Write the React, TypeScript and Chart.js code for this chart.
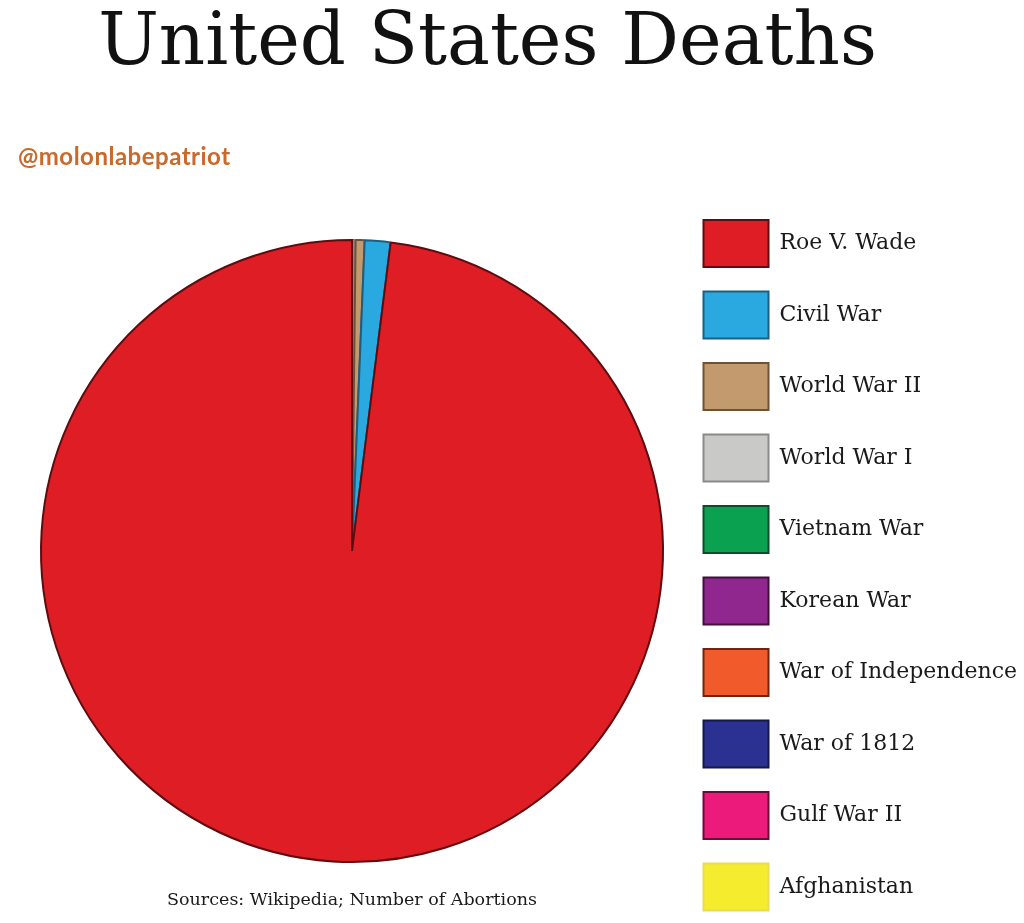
import React, { useEffect, useRef } from "react";
import { Chart, registerables } from "chart.js";

Chart.register(...registerables);

// Legend order (top to bottom); the pie is drawn in reverse order clockwise from 12 o'clock
const categories: string[] = [
  "Roe V. Wade",
  "Civil War",
  "World War II",
  "World War I",
  "Vietnam War",
  "Korean War",
  "War of Independence",
  "War of 1812",
  "Gulf War II",
  "Afghanistan",
];

// Estimated deaths
const deaths: number[] = [
  61000000, 830000, 290000, 55000, 25000, 15000, 10000, 6000, 2500, 1500,
];

const fillColors: string[] = [
  "#de1e24",
  "#29a9e0",
  "#c39a6e",
  "#c9c9c7",
  "#0aa150",
  "#90278e",
  "#f15a2b",
  "#2b3191",
  "#ec1a7a",
  "#f5ec2e",
];

const edgeColors: string[] = [
  "#5e0c10",
  "#1d5f80",
  "#6e5236",
  "#8a8a88",
  "#0b4d2a",
  "#3e0f3d",
  "#6e2410",
  "#151848",
  "#6a0c36",
  "#e6dc5a",
];

const chartTitle = "United States Deaths";
const watermark = "@molonlabepatriot";
const sourceNote = "Sources: Wikipedia; Number of Abortions";

const LEGEND_FONT = "'DejaVu Serif', serif";
const LEGEND_SIZE = 22;
const BOX_W = 65;
const BOX_H = 47;
const LEGEND_PAD = 24.5;
const LEGEND_LEFT = 679;

export default function App() {
  const canvasRef = useRef<HTMLCanvasElement | null>(null);

  useEffect(() => {
    const canvas = canvasRef.current;
    if (!canvas) return;
    const labels = [...categories].reverse();
    const data = [...deaths].reverse();
    const bg = [...fillColors].reverse();
    const bc = [...edgeColors].reverse();

    // measure the widest legend label so the legend starts where the reference's does
    const mctx = document.createElement("canvas").getContext("2d")!;
    mctx.font = `normal ${LEGEND_SIZE}px ${LEGEND_FONT}`;
    let maxText = 0;
    categories.forEach((c) => {
      maxText = Math.max(maxText, mctx.measureText(c).width);
    });
    const fullW = LEGEND_PAD + BOX_W + LEGEND_SIZE / 2 + maxText + 10;
    const legendW = Math.min(fullW, 344);
    const padRight = 1024 - LEGEND_LEFT - legendW;

    const chart = new Chart(canvas, {
      type: "pie",
      data: {
        labels,
        datasets: [
          {
            data,
            backgroundColor: bg,
            borderColor: bc,
            borderWidth: 2,
            radius: 311,
          } as any,
        ],
      },
      options: {
        responsive: false,
        maintainAspectRatio: false,
        animation: false,
        devicePixelRatio: 1,
        layout: {
          padding: { top: 195.5, bottom: 19.5, left: 25, right: padRight },
        },
        plugins: {
          tooltip: { enabled: false },
          legend: {
            display: true,
            position: "right",
            align: "start",
            reverse: true,
            maxWidth: legendW,
            labels: {
              boxWidth: BOX_W,
              boxHeight: BOX_H,
              padding: LEGEND_PAD,
              color: "#1a1a1a",
              font: {
                family: LEGEND_FONT,
                size: LEGEND_SIZE,
              },
            },
          },
          title: {
            display: true,
            position: "bottom",
            fullSize: false,
            text: sourceNote,
            color: "#1a1a1a",
            font: {
              family: "'DejaVu Serif', serif",
              size: 17.5,
              weight: "normal",
            },
            padding: { top: -17, bottom: 30 },
          },
        },
      },
    });
    return () => chart.destroy();
  }, []);

  return (
    <div
      style={{
        position: "absolute",
        left: 0,
        top: 0,
        width: 1024,
        height: 923,
        overflow: "hidden",
        background: "#ffffff",
      }}
    >
      <canvas
        ref={canvasRef}
        width={1024}
        height={960}
        style={{ position: "absolute", left: 0, top: 0, width: 1024, height: 960 }}
      />
      <div
        style={{
          position: "absolute",
          left: 0,
          top: 3,
          width: 975,
          textAlign: "center",
          fontFamily: "'DejaVu Serif', serif",
          fontSize: 72,
          lineHeight: "72px",
          color: "#111111",
          whiteSpace: "nowrap",
        }}
      >
        {chartTitle}
      </div>
      <div
        style={{
          position: "absolute",
          left: 18,
          top: 143.5,
          fontFamily: "Lato, 'Noto Sans', sans-serif",
          fontWeight: 700,
          fontSize: 24,
          lineHeight: "24px",
          letterSpacing: "0.5px",
          color: "#c9692c",
          whiteSpace: "nowrap",
        }}
      >
        {watermark}
      </div>
    </div>
  );
}
